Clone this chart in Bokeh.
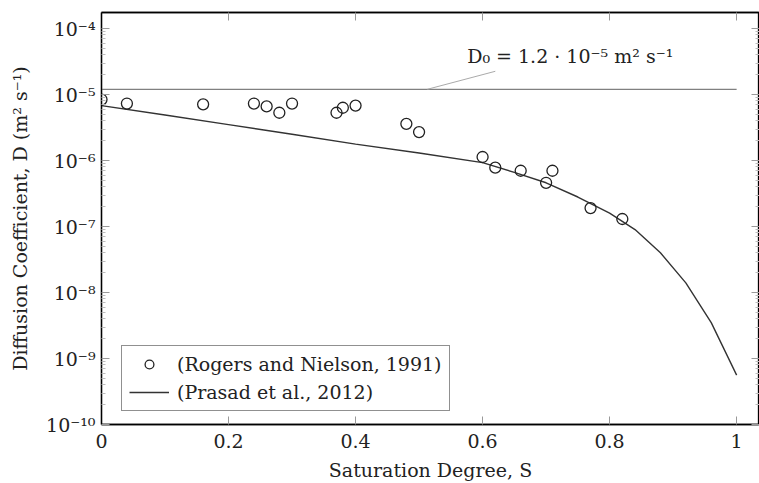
import numpy as np
from bokeh.plotting import figure
from bokeh.models import (LogAxis, LinearAxis, FixedTicker, CustomJSTickFormatter,
                          Legend, LegendItem, Label, Range1d, Arrow)
from bokeh.embed import file_html
from bokeh.resources import INLINE

# ---- data ----
rn_S = [0.0, 0.04, 0.16, 0.24, 0.26, 0.28, 0.30, 0.37, 0.38, 0.40,
        0.48, 0.50, 0.60, 0.62, 0.66, 0.70, 0.71, 0.77, 0.82]
rn_D = [8.4e-6, 7.3e-6, 7.1e-6, 7.3e-6, 6.6e-6, 5.3e-6, 7.3e-6, 5.3e-6, 6.3e-6, 6.8e-6,
        3.6e-6, 2.7e-6, 1.13e-6, 7.8e-7, 7.0e-7, 4.6e-7, 7.0e-7, 1.9e-7, 1.3e-7]
pr_S = [0.0, 0.1, 0.2, 0.3, 0.4, 0.5, 0.6, 0.65, 0.7, 0.75, 0.8, 0.84, 0.88, 0.92, 0.96, 1.0]
pr_D = [6.8e-6, 4.9e-6, 3.5e-6, 2.5e-6, 1.77e-6, 1.3e-6, 9.3e-7, 6.6e-7, 4.6e-7, 2.8e-7,
        1.6e-7, 9.0e-8, 4.0e-8, 1.4e-8, 3.5e-9, 5.6e-10]
D0 = 1.2e-5
d0_S = [0.0, 1.0]
d0_D = [D0, D0]
x_ticks = [0.0, 0.2, 0.4, 0.6, 0.8, 1.0]
y_ticks = [1e-10, 1e-9, 1e-8, 1e-7, 1e-6, 1e-5, 1e-4]
y_minor = [m * 10.0 ** k for k in range(-10, -3) for m in range(2, 10)]

FONT = "DejaVu Serif"
FS = "19px"
TXT = "#222222"

p = figure(width=759, height=483, x_range=Range1d(0, 1.036), y_range=Range1d(1e-10, 1.75e-4),
           y_axis_type="log", output_backend="svg", toolbar_location=None,
           min_border_left=101, min_border_right=0, min_border_top=12, min_border_bottom=40)
p.grid.visible = False
p.outline_line_color = "black"
p.outline_line_width = 1.3
p.background_fill_color = "white"
p.border_fill_color = "white"

xf = CustomJSTickFormatter(code="return tick.toFixed(1).replace(/\\.0$/, '');")
yf = CustomJSTickFormatter(code="""
const e = Math.round(Math.log10(tick));
const sup = {'-':'\u207b','0':'\u2070','1':'\u00b9','2':'\u00b2','3':'\u00b3','4':'\u2074','5':'\u2075','6':'\u2076','7':'\u2077','8':'\u2078','9':'\u2079'};
return '10' + String(e).split('').map(c => sup[c]).join('');
""")
blank = CustomJSTickFormatter(code="return '';")

def style_axis(ax, show_labels):
    ax.axis_line_color = "black"
    ax.axis_line_width = 1.3
    ax.major_tick_in = 8
    ax.major_tick_out = 0
    ax.minor_tick_in = 4
    ax.minor_tick_out = 0
    ax.major_tick_line_color = "#999999"
    ax.minor_tick_line_color = "#bbbbbb"
    if show_labels:
        ax.major_label_text_font = FONT
        ax.major_label_text_font_size = FS
        ax.major_label_text_color = TXT
        ax.axis_label_text_font = FONT
        ax.axis_label_text_font_size = FS
        ax.axis_label_text_font_style = "normal"
        ax.axis_label_text_color = TXT
    else:
        ax.formatter = blank
        ax.major_label_text_font_size = "1px"
        ax.major_label_standoff = 0

xb = p.xaxis[0]
xb.ticker = FixedTicker(ticks=x_ticks, minor_ticks=[])
xb.formatter = xf
xb.axis_label = "Saturation Degree, S"
style_axis(xb, True)
xb.major_label_standoff = 9
xb.axis_label_standoff = 8

yl = p.yaxis[0]
yl.ticker = FixedTicker(ticks=y_ticks, minor_ticks=y_minor)
yl.formatter = yf
yl.axis_label = "Diffusion Coefficient, D (m\u00b2 s\u207b\u00b9)"
style_axis(yl, True)
yl.major_label_standoff = 6
yl.axis_label_standoff = 12

xt = LinearAxis(ticker=FixedTicker(ticks=x_ticks, minor_ticks=[]))
style_axis(xt, False)
p.add_layout(xt, "above")
yr = LogAxis(ticker=FixedTicker(ticks=y_ticks, minor_ticks=y_minor))
style_axis(yr, False)
p.add_layout(yr, "right")

# D0 line
p.line(d0_S, d0_D, line_color="#808080", line_width=1.3)
p.add_layout(Arrow(end=None, x_start=0.513, y_start=D0, x_end=0.62, y_end=2.25e-5,
                   line_color="#aaaaaa", line_width=1))
p.add_layout(Label(x=0.738, y=3.9e-5, text="D\u2080 = 1.2 \u00b7 10\u207b\u2075 m\u00b2 s\u207b\u00b9",
                   text_align="center", text_baseline="middle", text_font=FONT,
                   text_font_size=FS, text_color=TXT))

ln = p.line(pr_S, pr_D, line_color="#333333", line_width=1.4)
cr = p.scatter(rn_S, rn_D, marker="circle", size=11, fill_color=None,
               line_color="#222222", line_width=1.3)

legend = Legend(items=[LegendItem(label="(Rogers and Nielson, 1991)", renderers=[cr]),
                       LegendItem(label="(Prasad et al., 2012)", renderers=[ln])],
                location=(20, 13), label_text_font=FONT, label_text_font_size=FS,
                label_text_color=TXT, glyph_width=40, glyph_height=22,
                label_standoff=8, padding=7, spacing=6, margin=0,
                border_line_color="#222222", border_line_width=1.3,
                background_fill_alpha=1.0)
p.add_layout(legend)

open("out.html", "w").write(file_html(p, INLINE))
